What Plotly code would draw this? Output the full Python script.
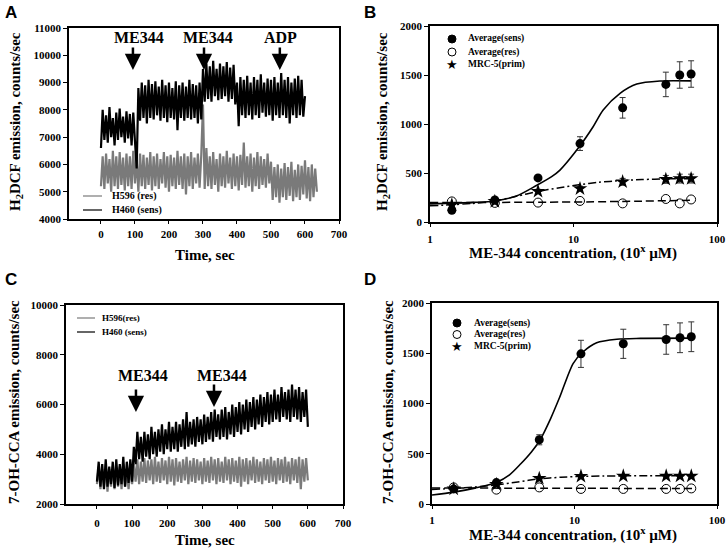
import plotly.graph_objects as go

# ---------------- data ----------------
a_res_v = [5200, 6300, 5100, 6400, 5300, 6200, 5000, 6500, 5200, 6300, 5100, 6450, 5250, 6250, 5050, 6400,
           5200, 6300, 5100, 6500, 5300, 6200, 5000, 6400, 5200, 6350, 5100, 6250, 5250, 6450, 5050, 6300,
           5200, 6400, 5100, 6200, 5300, 6450, 5150, 6300, 5000, 6350, 5200, 6250, 5100, 6500, 5250, 6300,
           5100, 6400, 4900, 6300, 5200, 6450, 5100, 6250, 5300, 6400, 5150, 6350, 8200, 5100, 6600, 5200,
           6300, 5100, 6450, 5250, 6200, 5000, 6400, 5200, 6300, 5150, 6500, 5300, 6250, 5100, 6400, 5200,
           6300, 5050, 6350, 5250, 6800, 5150, 6300, 5200, 6400, 5000, 6250, 5200, 6450, 5100, 6300, 5250,
           6200, 5150, 6400, 5300, 6100, 4700, 5900, 4800, 6000, 4600, 5850, 4800, 6050, 4700, 5900, 4850,
           6100, 4650, 5800, 4800, 6000, 4700, 5950, 4900, 6150, 4750, 5900, 4650, 6000, 4800, 5850, 5000]
a_sens_v = [6600, 8000, 6900, 7800, 6800, 8100, 7000, 7700, 6700, 7900, 6900, 8050, 7000, 7750, 6800, 7950,
            6950, 7850, 6700, 7900, 6850, 5850, 8800, 7600, 9000, 7700, 8900, 7500, 9100, 7700, 8950, 7650,
            9050, 7800, 8850, 7600, 9100, 7700, 8900, 7550, 9000, 7700, 8800, 7650, 9050, 7250, 8900, 7700,
            9000, 7600, 8850, 7700, 9100, 7650, 8950, 7700, 8900, 7500, 9000, 7650, 9500, 8300, 9700, 8400,
            9600, 8300, 9800, 8500, 9500, 8350, 9700, 8400, 9600, 8500, 9750, 8300, 9550, 8400, 9650, 8200,
            9000, 7400, 9200, 7800, 9100, 7700, 9250, 7800, 9000, 7650, 9200, 7800, 9100, 7700, 9300, 7900,
            9000, 7750, 9150, 7800, 9100, 7600, 9200, 7800, 9000, 7700, 9350, 7800, 9100, 7700, 9200, 7500,
            9000, 7800, 9150, 7700, 9250, 7800, 9100, 7750, 8500]

# Panel C: 7-OH-CCA traces, sampled every 5 s
c_res_v = [2800, 3500, 2600, 3400, 2700, 3600, 2500, 3400, 2700, 3500, 2600, 3400, 2700, 3500, 2600, 3600,
           2700, 3400, 2600, 3500, 2800, 3600, 2900, 3800, 2800, 3700, 2900, 3850, 2850, 3750, 2950, 3800,
           2800, 3900, 2900, 3700, 2850, 3850, 2950, 3750, 2800, 3900, 2900, 3800, 2750, 3850, 2900, 3700,
           2850, 3800, 2950, 3900, 2800, 3750, 2900, 3850, 2850, 3800, 2950, 3700, 2800, 3850, 2900, 3750,
           2850, 3900, 2950, 3800, 2800, 3850, 2900, 3700, 2850, 3900, 2950, 3800, 2800, 3850, 2900, 3750,
           2850, 3900, 2700, 3800, 2900, 3850, 2800, 3750, 2950, 3900, 2850, 3800, 2900, 3700, 2800, 3850,
           2950, 3800, 2850, 3900, 2900, 3750, 2800, 3850, 2950, 3800, 2850, 3900, 2900, 3700, 2800, 3850,
           2950, 3800, 2850, 3900, 2600, 3800, 2900, 3850, 2950]
c_sens_v = [2900, 3700, 2700, 3600, 2600, 3800, 2700, 3500, 2800, 3700, 2650, 3800, 2750, 3600, 2800, 3900,
            2700, 3700, 2850, 3800, 2900, 4300, 3600, 4900, 3800, 4700, 3700, 4900, 3900, 4800, 3800, 5100,
            4000, 4900, 3900, 5000, 4100, 5200, 4000, 5000, 4200, 5300, 4100, 5100, 4200, 5300, 4100, 5200,
            4300, 5400, 4200, 5700, 4300, 5300, 4400, 5400, 4300, 5500, 4500, 5400, 4400, 5600, 4500, 5500,
            4600, 5700, 4500, 5800, 4700, 5600, 4600, 5800, 4700, 5900, 4600, 5700, 4800, 6000, 4700, 5900,
            4900, 6100, 4800, 6000, 5000, 6200, 4900, 6100, 5100, 6300, 5000, 6200, 5200, 6400, 5100, 6300,
            5300, 6500, 5200, 6400, 5300, 6600, 5400, 6400, 5300, 6700, 5500, 6500, 5400, 6600, 5300, 6800,
            5500, 6600, 5400, 6700, 5300, 6500, 5500, 6600, 5100]
sample_step = 5  # seconds between samples

# Panels B & D: concentrations (log axis)
conc = [1.42, 2.83, 5.66, 11.1, 22.0, 44.0, 55.0, 66.0]
b_sens = [120, 225, 450, 800, 1165, 1404, 1500, 1510]
b_sens_err = [15, 20, 25, 70, 105, 125, 135, 135]
b_res = [210, 195, 198, 215, 190, 235, 190, 230]
b_prim = [175, 210, 313, 340, 410, 435, 443, 443]
b_prim_err = [10, 15, 20, 25, 35, 40, 45, 45]
d_sens = [150, 213, 639, 1494, 1594, 1637, 1654, 1664]
d_sens_err = [10, 20, 50, 135, 145, 147, 148, 148]
d_res = [165, 143, 165, 150, 150, 150, 150, 155]
d_prim = [150, 195, 255, 276, 278, 278, 278, 278]
d_prim_err = [8, 10, 12, 15, 15, 15, 15, 15]

# fitted curves
b_fit_sens_x = [1, 2, 2.83, 4, 5.56, 7, 8.05, 10.9, 13.7, 16.1, 21.1, 27.6, 40, 66]
b_fit_sens_y = [185, 200, 215, 265, 375, 460, 530, 762, 972, 1143, 1313, 1408, 1439, 1440]
b_fit_prim_x = [1, 2, 2.83, 4, 5.56, 8, 10.9, 15, 21, 30, 45, 66]
b_fit_prim_y = [165, 190, 215, 262, 310, 350, 380, 405, 422, 433, 440, 442]
b_fit_res_x = [1, 10, 30, 66]
b_fit_res_y = [198, 204, 213, 222]
d_fit_sens_x = [1, 1.42, 2, 2.83, 3.5, 4.2, 5, 5.73, 6.8, 7.9, 9.8, 11.5, 14.3, 19.8, 29, 67]
d_fit_sens_y = [90, 118, 158, 215, 290, 400, 520, 637, 850, 1068, 1400, 1515, 1605, 1640, 1648, 1650]
d_fit_prim_x = [1, 1.42, 2, 2.83, 4, 5.66, 8, 11, 16, 22, 67]
d_fit_prim_y = [145, 155, 170, 190, 220, 250, 266, 274, 278, 280, 282]
d_fit_res_x = [1, 10, 67]
d_fit_res_y = [160, 156, 155]

# annotation events
a_events = ["ME344", "ME344", "ADP"]
a_event_t = [94, 303, 526]
a_label_t = [112, 315, 529]
c_events = ["ME344", "ME344"]
c_event_t = [111, 333]
c_label_t = [131, 357]

# ---------------- figure ----------------
W, H = 727, 549
SERIF = "Liberation Serif"
GRAY = "#7a7a7a"
TRACE_W = 2.2
fig = go.Figure()

def tt(vals):
    return [sample_step * i for i in range(len(vals))]

fig.add_trace(go.Scatter(x=tt(a_res_v), y=a_res_v, mode="lines", line=dict(color=GRAY, width=TRACE_W),
                         xaxis="x", yaxis="y", showlegend=False, name="H596 (res)"))
fig.add_trace(go.Scatter(x=tt(a_sens_v), y=a_sens_v, mode="lines", line=dict(color="black", width=TRACE_W),
                         xaxis="x", yaxis="y", showlegend=False, name="H460 (sens)"))
fig.add_trace(go.Scatter(x=tt(c_res_v), y=c_res_v, mode="lines", line=dict(color=GRAY, width=TRACE_W),
                         xaxis="x3", yaxis="y3", showlegend=False, name="H596(res)"))
fig.add_trace(go.Scatter(x=tt(c_sens_v), y=c_sens_v, mode="lines", line=dict(color="black", width=TRACE_W),
                         xaxis="x3", yaxis="y3", showlegend=False, name="H460 (sens)"))

def dose_panel(xa, ya, fs, fp, fr, sens, sens_err, res, prim, prim_err):
    fig.add_trace(go.Scatter(x=fr[0], y=fr[1], mode="lines", line=dict(color="black", width=1.5, dash="8px,4px", shape="spline"),
                             xaxis=xa, yaxis=ya, showlegend=False))
    fig.add_trace(go.Scatter(x=fp[0], y=fp[1], mode="lines", line=dict(color="black", width=1.5, dash="8px,3px,2px,3px", shape="spline", smoothing=0.8),
                             xaxis=xa, yaxis=ya, showlegend=False))
    fig.add_trace(go.Scatter(x=fs[0], y=fs[1], mode="lines", line=dict(color="black", width=1.6, shape="spline", smoothing=0.8),
                             xaxis=xa, yaxis=ya, showlegend=False))
    fig.add_trace(go.Scatter(x=conc, y=res, mode="markers", marker=dict(symbol="circle-open", size=9, color="black", line=dict(width=1)),
                             xaxis=xa, yaxis=ya, showlegend=False, name="Average(res)"))
    fig.add_trace(go.Scatter(x=conc, y=prim, mode="markers", marker=dict(symbol="star", size=11, color="black"),
                             error_y=dict(type="data", array=prim_err, color="#333", thickness=1, width=3),
                             xaxis=xa, yaxis=ya, showlegend=False, name="MRC-5(prim)"))
    fig.add_trace(go.Scatter(x=conc, y=sens, mode="markers", marker=dict(symbol="circle", size=9, color="black"),
                             error_y=dict(type="data", array=sens_err, color="#333", thickness=1, width=3),
                             xaxis=xa, yaxis=ya, showlegend=False, name="Average(sens)"))

dose_panel("x2", "y2", (b_fit_sens_x, b_fit_sens_y), (b_fit_prim_x, b_fit_prim_y), (b_fit_res_x, b_fit_res_y),
           b_sens, b_sens_err, b_res, b_prim, b_prim_err)
dose_panel("x4", "y4", (d_fit_sens_x, d_fit_sens_y), (d_fit_prim_x, d_fit_prim_y), (d_fit_res_x, d_fit_res_y),
           d_sens, d_sens_err, d_res, d_prim, d_prim_err)

def PX(px):
    return px / W

def PY(py):
    return 1 - py / H

tickfont = dict(family=SERIF, size=11, color="black", weight="bold")

def ax(dom, anchor, **kw):
    d = dict(domain=dom, anchor=anchor, showline=True, linewidth=1.5, linecolor="black", mirror=True,
             showgrid=False, zeroline=False, ticks="outside", ticklen=4, tickwidth=1, tickcolor="black",
             tickfont=tickfont, tickformat="d", ticklabeloverflow="allow")
    d.update(kw)
    return d

fig.update_layout(
    width=W, height=H, margin=dict(l=0, r=0, t=0, b=0, autoexpand=False),
    paper_bgcolor="white", plot_bgcolor="white", showlegend=False,
    xaxis=ax([PX(69), PX(339)], "y", range=[-94, 700], tickvals=[0, 100, 200, 300, 400, 500, 600, 700],
             ticklen=3, ticklabelstandoff=1),
    yaxis=ax([PY(219), PY(28)], "x", range=[4000, 11000], dtick=1000),
    xaxis2=ax([PX(430), PX(717)], "y2", type="log", range=[0, 2], tickvals=[1, 10, 100],
              ticktext=["1", "10", "100"], ticklen=3, ticklabelstandoff=3),
    yaxis2=ax([PY(222), PY(26)], "x2", range=[0, 2000], dtick=500),
    xaxis3=ax([PX(66), PX(343)], "y3", range=[-88, 700], tickvals=[0, 100, 200, 300, 400, 500, 600, 700],
              ticklen=3, ticklabelstandoff=5),
    yaxis3=ax([PY(504), PY(305)], "x3", range=[2000, 10000], dtick=2000),
    xaxis4=ax([PX(432), PX(717)], "y4", type="log", range=[0, 2], tickvals=[1, 10, 100],
              ticktext=["1", "10", "100"], ticklen=3, ticklabelstandoff=2),
    yaxis4=ax([PY(504), PY(303)], "x4", range=[0, 2000], dtick=500),
)

ann = []
def ptext(text, x, y, size=15, angle=0, fam=SERIF, xanchor="center", yanchor="middle", bold=True):
    ann.append(dict(text=("<b>%s</b>" % text) if bold else text, x=PX(x), y=PY(y), xref="paper", yref="paper",
                    showarrow=False, textangle=angle, xanchor=xanchor, yanchor=yanchor,
                    font=dict(family=fam, size=size, color="black")))

# panel letters
ptext("A", 3, 12, size=17, fam="Liberation Sans", xanchor="left")
ptext("B", 362, 12, size=17, fam="Liberation Sans", xanchor="left")
ptext("C", 3, 279, size=17, fam="Liberation Sans", xanchor="left")
ptext("D", 362, 279, size=17, fam="Liberation Sans", xanchor="left")

# axis titles
ptext("H<sub>2</sub>DCF emission, counts/sec", 16, 122, angle=-90)
ptext("Time, sec", 205, 255)
ptext("H<sub>2</sub>DCF emission, counts/sec", 383, 122, angle=-90)
ptext("ME-344 concentration, (10<sup>x</sup> µM)", 573, 252)
ptext("7-OH-CCA emission, counts/sec", 14, 402, angle=-90)
ptext("Time, sec", 205, 540)
ptext("7-OH-CCA emission, counts/sec", 388, 402, angle=-90)
ptext("ME-344 concentration, (10<sup>x</sup> µM)", 573, 534)

# event arrows & labels
for lab, t_arrow, t_lab in zip(a_events, a_event_t, a_label_t):
    ann.append(dict(text="<b>%s</b>" % lab, x=t_lab, y=10634, xref="x", yref="y", showarrow=False,
                    xanchor="center", yanchor="middle", font=dict(family=SERIF, size=16, color="black")))
    ann.append(dict(text="", x=t_arrow, y=9461, xref="x", yref="y", showarrow=True, ax=0, ay=-24,
                    arrowhead=2, arrowsize=1.3, arrowwidth=2.5, arrowcolor="black"))
for lab, t_arrow, t_lab, tip in zip(c_events, c_event_t, c_label_t, [5698, 5900]):
    ann.append(dict(text="<b>%s</b>" % lab, x=t_lab, y=7185, xref="x3", yref="y3", showarrow=False,
                    xanchor="center", yanchor="middle", font=dict(family=SERIF, size=16, color="black")))
    ann.append(dict(text="", x=t_arrow, y=tip, xref="x3", yref="y3", showarrow=True, ax=0, ay=-24,
                    arrowhead=2, arrowsize=1.3, arrowwidth=2.5, arrowcolor="black"))

shapes = []
# legends A and C (line samples)
def line_legend(x0, x1, tx, rows, size):
    for (label, color, y) in rows:
        shapes.append(dict(type="line", xref="paper", yref="paper", x0=PX(x0), x1=PX(x1), y0=PY(y), y1=PY(y),
                           line=dict(color=color, width=1.2)))
        ptext(label, tx, y, size=size, xanchor="left")

line_legend(83, 102, 110, [("H596 (res)", GRAY, 196), ("H460 (sens)", "black", 210)], 10)
line_legend(77, 95, 100, [("H596(res)", GRAY, 318), ("H460 (sens)", "black", 332)], 9)

# legends B and D (marker samples)
def marker_legend(mx, tx, ys, size):
    labels = ["Average(sens)", "Average(res)", "MRC-5(prim)"]
    for i, (label, y) in enumerate(zip(labels, ys)):
        if i < 2:
            shapes.append(dict(type="circle", xref="paper", yref="paper", x0=PX(mx - 4), x1=PX(mx + 4),
                               y0=PY(y + 4), y1=PY(y - 4), line=dict(color="black", width=1),
                               fillcolor="black" if i == 0 else "rgba(0,0,0,0)"))
        else:
            ann.append(dict(text="★", x=PX(mx), y=PY(y), xref="paper", yref="paper", showarrow=False,
                            xanchor="center", yanchor="middle",
                            font=dict(family="DejaVu Sans", size=13, color="black")))
        ptext(label, tx, y, size=size, xanchor="left")

marker_legend(452, 466, [39, 52, 65], 9.5)
marker_legend(457, 472, [323, 334.5, 346], 9.5)

fig.update_layout(annotations=ann, shapes=shapes)
fig.write_html("out.html", config={"displayModeBar": False},
               post_script="document.body.style.margin='0';document.body.style.overflow='hidden';")
